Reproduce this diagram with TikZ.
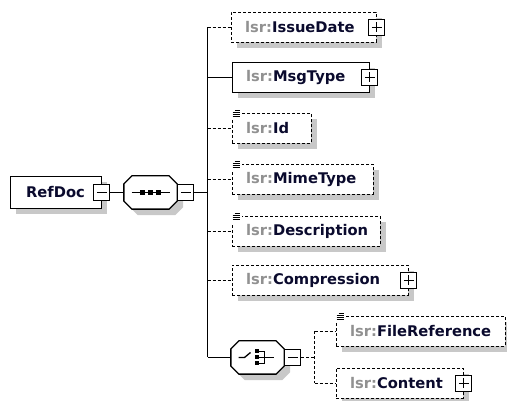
\documentclass[tikz,border=0pt]{standalone}
\usepackage{fontspec}
\setmainfont{DejaVu Sans}
\usetikzlibrary{shadows}

\definecolor{nsgray}{RGB}{145,145,145}
\definecolor{namecol}{RGB}{10,10,45}
\definecolor{shade}{RGB}{200,200,200}

\newcommand{\lsr}[1]{\textcolor{nsgray}{lsr:}#1}
\newcommand{\docicon}[1]{%
  \fill[white] ([shift={(-1pt,3pt)}]#1.north west) rectangle ([shift={(10pt,-7pt)}]#1.north west);
  \foreach \dx/\dy in {3/2,1/0,1/-2,1/-4}
    \draw[line width=0.9pt] ([shift={(\dx pt,\dy pt)}]#1.north west) -- ([shift={(8pt,\dy pt)}]#1.north west);
}
\newcommand{\octagon}[1]{%
  \draw[fill=white, drop shadow={shadow xshift=6pt, shadow yshift=-6pt, fill=shade, opacity=1}]
    ([xshift=8pt]#1.north west) -- ([xshift=-8pt]#1.north east)
    -- ([yshift=-8pt]#1.north east) -- ([yshift=8pt]#1.south east)
    -- ([xshift=-8pt]#1.south east) -- ([xshift=8pt]#1.south west)
    -- ([yshift=8pt]#1.south west) -- ([yshift=-8pt]#1.north west) -- cycle;
}

\tikzset{
  elem/.style={draw, fill=white, minimum height=30pt,
    inner xsep=14pt, inner ysep=0pt, align=left, anchor=west, text=namecol,
    font=\fontsize{14.7}{17}\selectfont\bfseries,
    drop shadow={shadow xshift=6pt, shadow yshift=-6pt, fill=shade, opacity=1}},
  opt/.style={dash pattern=on 3pt off 2pt},
  comp/.style={minimum width=52pt, minimum height=32pt, inner sep=0pt},
  plusbox/.style={draw, fill=white, minimum size=16pt, inner sep=0pt,
    path picture={\draw
      ([xshift=3pt]path picture bounding box.west) -- ([xshift=-3pt]path picture bounding box.east)
      ([yshift=-3pt]path picture bounding box.north) -- ([yshift=3pt]path picture bounding box.south);}},
  minusbox/.style={draw, fill=white, minimum size=16pt, inner sep=0pt,
    path picture={\draw
      ([xshift=3pt]path picture bounding box.west) -- ([xshift=-3pt]path picture bounding box.east);}},
}

\begin{document}
\begin{tikzpicture}[x=1pt, y=-1pt, line width=1.3pt]
  \useasboundingbox (0,0) rectangle (507,401);

  % root and sequence
  \node[elem, inner xsep=16pt, minimum height=32pt, text width=59pt] (refdoc) at (9.5,192.5) {RefDoc};
  \node[minusbox] (refminus) at (refdoc.east) {};
  \node[comp] (seq) at (150.5,192.5) {};
  \octagon{seq}
  \node[minusbox, anchor=west] (seqminus) at (seq.east) {};
  \draw ([xshift=-19pt]seq.center) -- ([xshift=19pt]seq.center);
  \foreach \dx in {-8,0,8}
    \fill ([xshift=\dx pt]seq.center) +(-2.5pt,-2.5pt) rectangle +(2.5pt,2.5pt);

  % children of the sequence
  \node[elem, opt, text width=117pt] (issuedate) at (230.5,27.5) {\lsr{IssueDate}};
  \node[plusbox] (issueplus) at (issuedate.east) {};
  \node[elem, text width=109pt] (msgtype) at (231.5,77.5) {\lsr{MsgType}};
  \node[plusbox] (msgplus) at (msgtype.east) {};
  \node[elem, opt, text width=51pt] (id) at (231.5,128.5) {\lsr{Id}};
  \node[elem, opt, text width=113pt] (mimetype) at (231.5,179.5) {\lsr{MimeType}};
  \node[elem, opt, text width=120pt] (description) at (231.5,231.5) {\lsr{Description}};
  \node[elem, opt, text width=148pt] (compression) at (231.5,280.5) {\lsr{Compression}};
  \node[plusbox] (compplus) at (compression.east) {};
  \docicon{id}
  \docicon{mimetype}
  \docicon{description}

  % choice
  \node[comp] (choice) at (257.5,357.5) {};
  \octagon{choice}
  \node[minusbox, anchor=west] (choiceminus) at (choice.east) {};
  \draw ([xshift=-19pt]choice.center) -- ([xshift=-13pt]choice.center)
    -- ([shift={(-7pt,5pt)}]choice.center);
  \foreach \dy in {6,0,-6}{
    \fill ([shift={(-1pt,\dy pt)}]choice.center) +(-2pt,-2pt) rectangle +(2pt,2pt);
    \draw ([shift={(1pt,\dy pt)}]choice.center) -- ([shift={(7pt,\dy pt)}]choice.center);
  }
  \draw ([shift={(7pt,6pt)}]choice.center) -- ([shift={(7pt,-6pt)}]choice.center);
  \draw ([xshift=7pt]choice.center) -- ([xshift=16pt]choice.center);

  \node[elem, opt, text width=141pt] (fileref) at (335.5,331.5) {\lsr{FileReference}};
  \node[elem, opt, text width=99pt] (content) at (335.5,383.5) {\lsr{Content}};
  \node[plusbox] (contentplus) at (content.east) {};
  \docicon{fileref}

  % connectors
  \coordinate (tseq) at (207.5,192.5);
  \coordinate (t1) at (207.5,27.5);
  \coordinate (t2) at (207.5,77.5);
  \coordinate (t3) at (207.5,128.5);
  \coordinate (t4) at (207.5,179.5);
  \coordinate (t5) at (207.5,231.5);
  \coordinate (t6) at (207.5,280.5);
  \coordinate (t7) at (207.5,357.5);
  \coordinate (c1) at (314.5,331.5);
  \coordinate (c2) at (314.5,383.5);
  \coordinate (cmid) at (314.5,357.5);

  \draw (refminus) -- (seq);
  \draw (seqminus) -- (tseq);
  \draw (t1) -- (t7);
  \draw[opt] (t1) -- (issuedate.west);
  \draw (t2) -- (msgtype.west);
  \draw[opt] (t3) -- (id.west);
  \draw[opt] (t4) -- (mimetype.west);
  \draw[opt] (t5) -- (description.west);
  \draw[opt] (t6) -- (compression.west);
  \draw (t7) -- (choice);
  \draw[opt] (choiceminus) -- (cmid);
  \draw[opt] (c1) -- (c2);
  \draw[opt] (c1) -- (fileref.west);
  \draw[opt] (c2) -- (content.west);
\end{tikzpicture}
\end{document}
